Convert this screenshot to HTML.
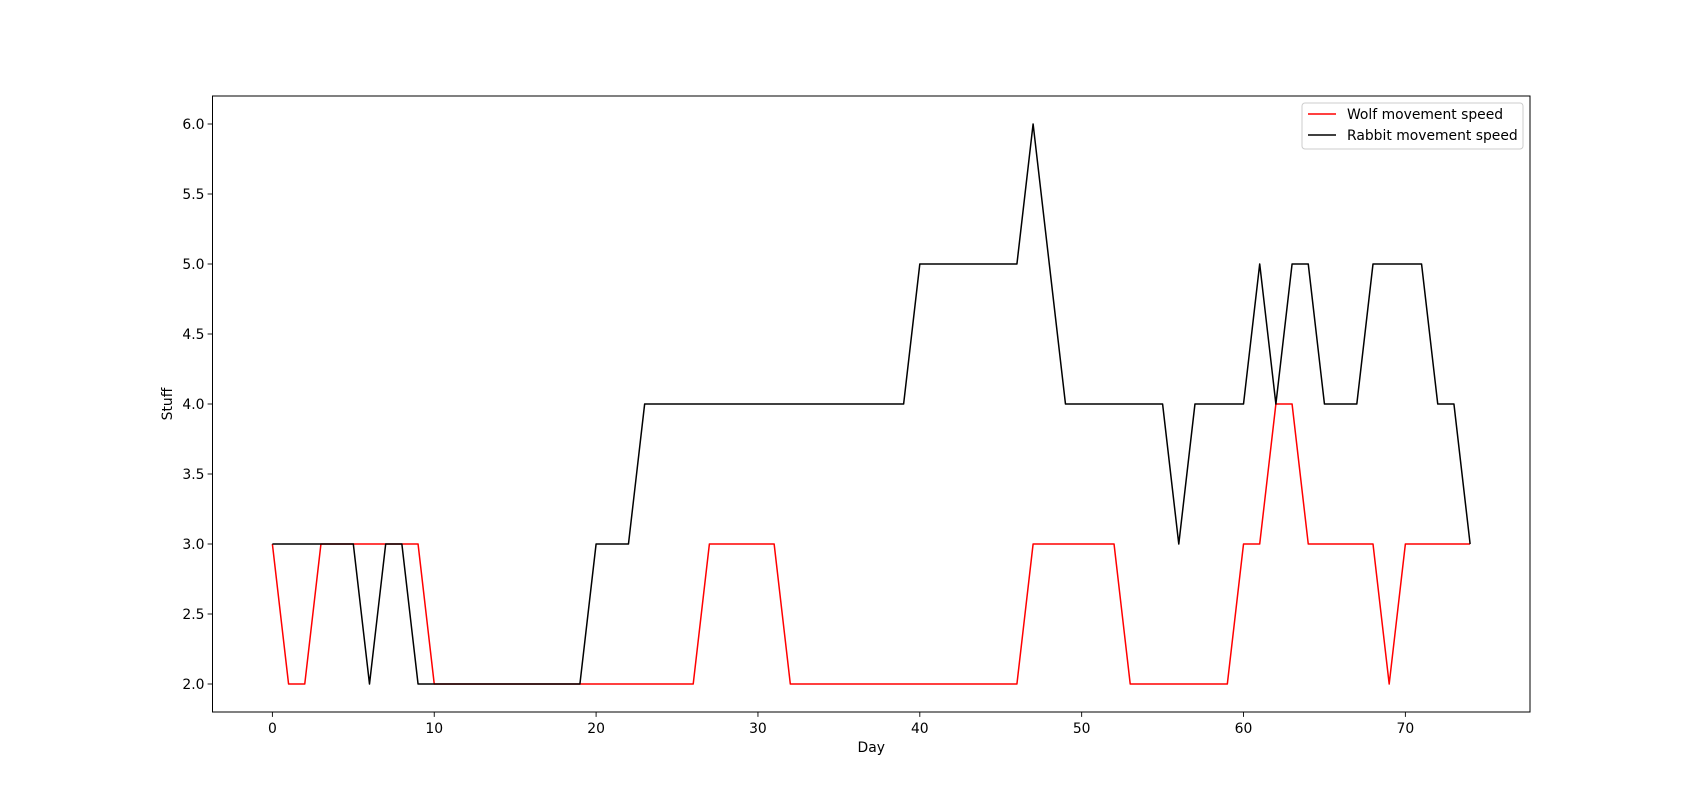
<!DOCTYPE html>
<html><head><meta charset="utf-8"><style>
body{margin:0;background:#fff}
svg text{font-family:"DejaVu Sans","Liberation Sans",sans-serif;font-size:13.9px;fill:#000}
</style></head><body>
<svg id="chart" width="1700" height="800" xmlns="http://www.w3.org/2000/svg"></svg>
<script>
const days = Array.from({length:75},(_,i)=>i);
const wolfSpeed = [3,2,2,3,3,3,3,3,3,3,2,2,2,2,2,2,2,2,2,2,2,2,2,2,2,2,2,3,3,3,3,3,2,2,2,2,2,2,2,2,2,2,2,2,2,2,2,3,3,3,3,3,3,2,2,2,2,2,2,2,3,3,4,4,3,3,3,3,3,2,3,3,3,3,3];
const rabbitSpeed = [3,3,3,3,3,3,2,3,3,2,2,2,2,2,2,2,2,2,2,2,3,3,3,4,4,4,4,4,4,4,4,4,4,4,4,4,4,4,4,4,5,5,5,5,5,5,5,6,5,4,4,4,4,4,4,4,3,4,4,4,4,5,4,5,5,4,4,4,5,5,5,5,4,4,3];
const xTicks = [0,10,20,30,40,50,60,70];
const yTicks = [2.0,2.5,3.0,3.5,4.0,4.5,5.0,5.5,6.0];
const L=212.5,R=1530,T=96,B=712;
const xMin=-3.7,xMax=77.7,yMin=1.8,yMax=6.2;
const sx=v=>L+(v-xMin)/(xMax-xMin)*(R-L);
const sy=v=>B-(v-yMin)/(yMax-yMin)*(B-T);
const svg=document.getElementById('chart');
const NS='http://www.w3.org/2000/svg';
function mk(tag,attrs,parent){const e=document.createElementNS(NS,tag);for(const k in attrs)e.setAttribute(k,attrs[k]);(parent||svg).appendChild(e);return e;}
function line(vals,color,name){
  const p=mk('polyline',{points:vals.map((v,i)=>sx(days[i])+','+sy(v)).join(' '),fill:'none',stroke:color,'stroke-width':1.5,'stroke-linejoin':'round'});
  
  
}
line(wolfSpeed,'#ff0000','wolf-line');
line(rabbitSpeed,'#000000','rabbit-line');
const frame=mk('rect',{x:L,y:T,width:R-L,height:B-T,fill:'none',stroke:'#000','stroke-width':1});


xTicks.forEach(t=>{
  const x=sx(t);
  mk('line',{x1:x,x2:x,y1:B,y2:B+4.9,stroke:'#000','stroke-width':0.9});
  const tx=mk('text',{x:x,y:B+21,'text-anchor':'middle'});tx.textContent=t;
  
  
});
yTicks.forEach(t=>{
  const y=sy(t);
  mk('line',{x1:L-4.9,x2:L,y1:y,y2:y,stroke:'#000','stroke-width':0.9});
  const tx=mk('text',{x:L-8,y:y+5,'text-anchor':'end'});tx.textContent=t.toFixed(1);
  
  
});
const xl=mk('text',{x:(L+R)/2,y:752,'text-anchor':'middle'});xl.textContent='Day';


const yl=mk('text',{x:172,y:(T+B)/2,'text-anchor':'middle',transform:'rotate(-90 172 '+((T+B)/2)+')'});yl.textContent='Stuff';


const lg=mk('g',{});


mk('rect',{x:1302,y:103,width:221,height:46,rx:3,fill:'#fff',stroke:'#ccc','stroke-width':1},lg);
[['Wolf movement speed','#ff0000',114],['Rabbit movement speed','#000',135]].forEach(([n,c,y])=>{
  const g=mk('g',{},lg);
  
  
  mk('line',{x1:1308,x2:1336,y1:y,y2:y,stroke:c,'stroke-width':1.5},g);
  const t=mk('text',{x:1347,y:y+5},g);t.textContent=n;
});
</script>
</body></html>
